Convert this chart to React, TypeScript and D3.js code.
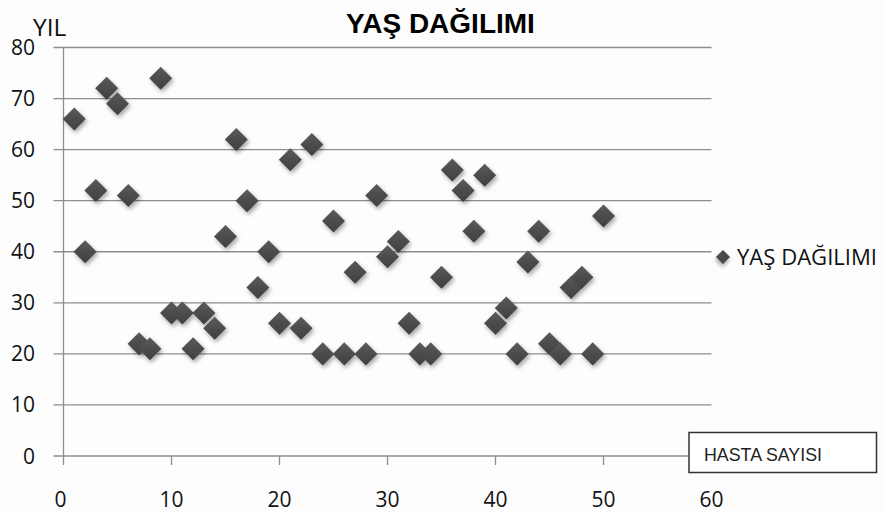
import React from "react";
import * as d3 from "d3";

const patientNo: number[] = Array.from({ length: 50 }, (_, i) => i + 1);
const ages: number[] = [
  66, 40, 52, 72, 69, 51, 22, 21, 74, 28,
  28, 21, 28, 25, 43, 62, 50, 33, 40, 26,
  58, 25, 61, 20, 46, 20, 36, 20, 51, 39,
  42, 26, 20, 20, 35, 56, 52, 44, 55, 26,
  29, 20, 38, 44, 22, 20, 33, 35, 20, 47,
];
const xTicks: number[] = [0, 10, 20, 30, 40, 50, 60];
const yTicks: number[] = [0, 10, 20, 30, 40, 50, 60, 70, 80];
const title = "YAŞ DAĞILIMI";
const seriesName = "YAŞ DAĞILIMI";
const xAxisTitle = "HASTA SAYISI";
const yAxisTitle = "YIL";

const W = 885;
const H = 514;
const plot = { left: 63.5, right: 711.5, top: 47.5, bottom: 456 };

export default function App() {
  const x = d3.scaleLinear().domain([0, 60]).range([plot.left, plot.right]);
  const y = d3.scaleLinear().domain([0, 80]).range([plot.bottom, plot.top]);
  const diamond = d3.symbol().type(d3.symbolSquare).size(265)();
  const legendDiamond = d3.symbol().type(d3.symbolSquare).size(100)();
  const font = "'Open Sans', 'DejaVu Sans', sans-serif";
  const grid = "#8e8e8e";

  return (
    <svg
      width={W}
      height={H}
      style={{ position: "absolute", left: 0, top: 0, display: "block" }}
    >
      <defs>
        <filter id="sh" x="-50%" y="-50%" width="200%" height="200%">
          <feDropShadow dx="1.5" dy="2.5" stdDeviation="2" floodColor="#000" floodOpacity="0.35" />
        </filter>
        <linearGradient id="mg" x1="0" y1="0" x2="1" y2="1">
          <stop offset="0" stopColor="#5a5a5a" />
          <stop offset="1" stopColor="#3f3f3f" />
        </linearGradient>
      </defs>
      <rect x={0} y={0} width={W} height={H} fill="#fdfdfd" />

      {/* title */}
      <text
        x={440.5}
        y={33}
        textAnchor="middle"
        fontFamily="'Liberation Sans', Arial, sans-serif"
        fontWeight="bold"
        fontSize={28}
        fill="#000"
      >
        {title}
      </text>

      {/* gridlines and y ticks */}
      {yTicks.map((t) => (
        <g key={"y" + t}>
          <line
            x1={plot.left - 10}
            x2={plot.right}
            y1={y(t)}
            y2={y(t)}
            stroke={grid}
            strokeWidth={1.3}
          />
          <text
            x={35}
            y={y(t)}
            dy="0.36em"
            textAnchor="end"
            fontFamily={font}
            fontSize={21}
            fill="#111"
          >
            {t}
          </text>
        </g>
      ))}

      {/* y axis line */}
      <line x1={plot.left} x2={plot.left} y1={plot.top} y2={plot.bottom + 9} stroke={grid} strokeWidth={1.3} />

      {/* x ticks */}
      {xTicks.map((t) => (
        <g key={"x" + t}>
          {t > 0 && t < 60 && (
            <line x1={x(t)} x2={x(t)} y1={plot.bottom} y2={plot.bottom + 9} stroke={grid} strokeWidth={1.3} />
          )}
          <text
            x={t === 0 ? x(t) - 3 : x(t)}
            y={506.5}
            textAnchor="middle"
            fontFamily={font}
            fontSize={21}
            fill="#111"
          >
            {t}
          </text>
        </g>
      ))}

      {/* y axis title */}
      <text x={33} y={36} fontFamily={font} fontSize={24.5} fill="#111">
        {yAxisTitle}
      </text>

      {/* points */}
      <g filter="url(#sh)">
        {patientNo.map((p, i) => (
          <path
            key={p}
            d={diamond as string}
            transform={`translate(${x(p)},${y(ages[i])}) rotate(45)`}
            fill="url(#mg)"
          />
        ))}
      </g>

      {/* legend */}
      <path
        d={legendDiamond as string}
        transform="translate(723,257) rotate(45)"
        fill="#4a4a4a"
        filter="url(#sh)"
      />
      <text x={737} y={265} fontFamily={font} fontSize={22} fill="#111" textLength={140} lengthAdjust="spacingAndGlyphs">
        {seriesName}
      </text>

      {/* x axis title box */}
      <rect x={689} y={432.5} width={187.5} height={40} fill="#fff" stroke="#333" strokeWidth={1.5} />
      <text
        x={704}
        y={460.5}
        fontFamily="'Liberation Sans', Arial, sans-serif"
        fontSize={18.5}
        textLength={118}
        lengthAdjust="spacingAndGlyphs"
        fill="#222"
      >
        {xAxisTitle}
      </text>
    </svg>
  );
}
